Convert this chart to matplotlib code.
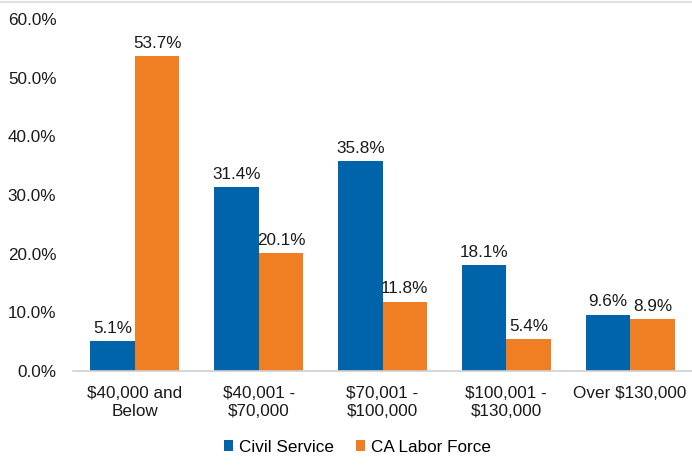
import matplotlib
matplotlib.use("Agg")
import matplotlib.pyplot as plt
import numpy as np

categories = ["$40,000 and\nBelow", "$40,001 -\n$70,000", "$70,001 -\n$100,000", "$100,001 -\n$130,000", "Over $130,000"]
civil_service = [5.1, 31.4, 35.8, 18.1, 9.6]
ca_labor_force = [53.7, 20.1, 11.8, 5.4, 8.9]
yticks = [0, 10, 20, 30, 40, 50, 60]

plt.rcParams['font.family'] = ['Liberation Sans', 'DejaVu Sans']
FS = 12.3
plt.rcParams['font.size'] = FS

blue = "#0064AB"
orange = "#F07F23"
txt = "#1A1A1A"

fig = plt.figure(figsize=(6.92, 4.66), dpi=100)
ax = fig.add_axes([73/692, 1 - 371/466, (692 - 73)/692, (371 - 19)/466])

x = np.arange(len(categories))
w = 0.36
b1 = ax.bar(x - w/2, civil_service, w, color=blue, label="Civil Service")
b2 = ax.bar(x + w/2, ca_labor_force, w, color=orange, label="CA Labor Force")

for bars, vals in ((b1, civil_service), (b2, ca_labor_force)):
    for r, v in zip(bars, vals):
        ax.text(r.get_x() + r.get_width()/2, v + 0.9, f"{v:.1f}%", ha="center", va="bottom", fontsize=FS, color=txt)

ax.set_ylim(0, 60)
ax.set_xlim(-0.5, len(categories) - 0.5)
ax.set_yticks(yticks)
ax.set_yticklabels([f"{t:.1f}%" for t in yticks])
ax.set_xticks(x)
ax.set_xticklabels(categories, linespacing=1.25)
ax.tick_params(axis='both', length=0, labelsize=FS, colors=txt)
ax.tick_params(axis='y', pad=12)
ax.tick_params(axis='x', pad=11)
for s in ("top", "right", "left"):
    ax.spines[s].set_visible(False)
ax.spines["bottom"].set_color("#D0D0D0")
ax.spines["bottom"].set_linewidth(1.2)

leg = fig.legend(handles=[b1, b2], loc="center", bbox_to_anchor=(357.5/692, 1 - 447/466), ncol=2,
                 frameon=False, fontsize=FS, handlelength=0.55, handleheight=0.55,
                 handletextpad=0.35, columnspacing=1.3)

fig.add_artist(plt.Line2D([0, 1], [1 - 1.5/466, 1 - 1.5/466], color="#E0E0E0", lw=1.5, transform=fig.transFigure))

fig.savefig("out.png", dpi=100)
